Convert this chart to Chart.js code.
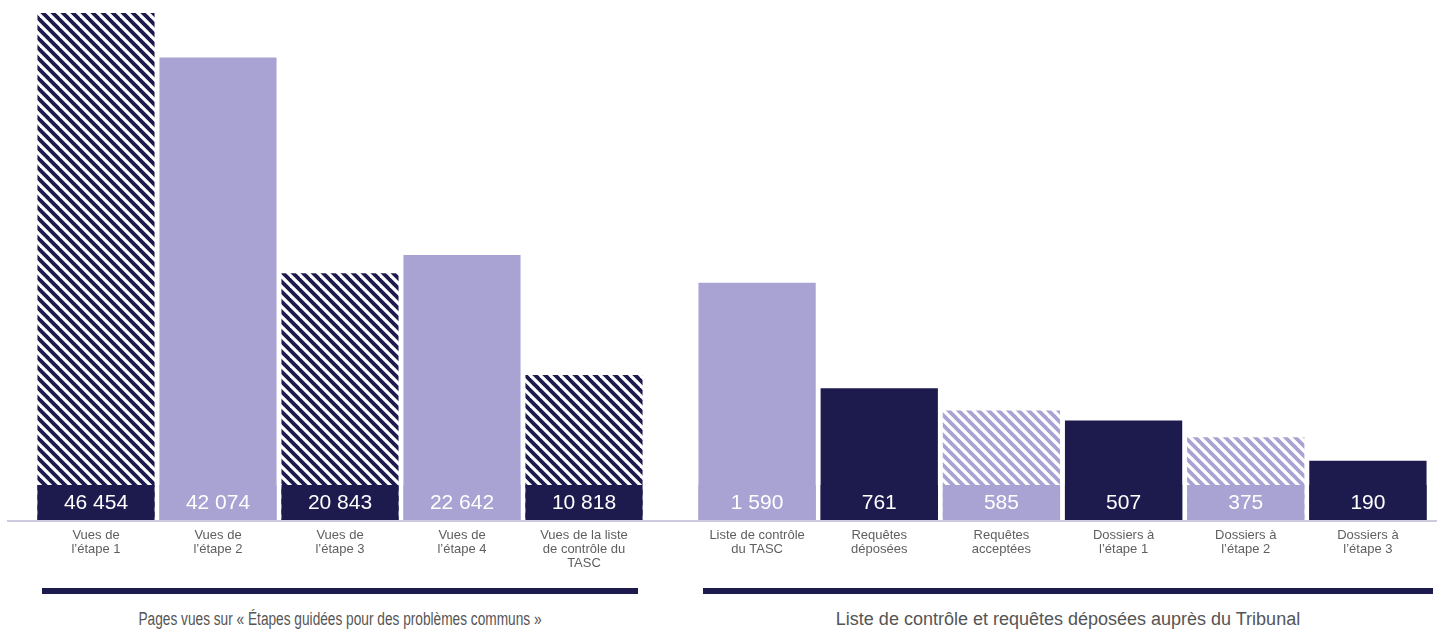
<!DOCTYPE html>
<html>
<head>
<meta charset="utf-8">
<script src="https://cdn.jsdelivr.net/npm/chart.js@4.4.1/dist/chart.umd.min.js"></script>
<style>
  body { margin: 0; background: #fff; font-family: "Liberation Sans", Arial, sans-serif; }
  #wrap { position: relative; width: 1437px; height: 637px; overflow: hidden; }
  .box { position: absolute; top: 0; height: 585px; }
  .groupLine { position: absolute; top: 588px; height: 6px; background: #1d1a4e; }
  .groupTitle { position: absolute; top: 609px; font-size: 18px; color: #555; text-align: center; white-space: nowrap; }
</style>
</head>
<body>
<div id="wrap">
  <div class="box" style="left:0; width:668px;"><canvas id="leftChart"></canvas></div>
  <div class="box" style="left:668px; width:769px;"><canvas id="rightChart"></canvas></div>
  <div class="groupLine" style="left:42px; width:596px;"></div>
  <div class="groupLine" style="left:703px; width:730px;"></div>
  <div class="groupTitle" style="left:42px; width:596px; transform: scaleX(0.76);">Pages vues sur « Étapes guidées pour des problèmes communs »</div>
  <div class="groupTitle" style="left:703px; width:730px;">Liste de contrôle et requêtes déposées auprès du Tribunal</div>
</div>
<script>
// Pages vues (groupe de gauche)
const pageLabels = [
    ["Vues de", "l’étape 1"],
    ["Vues de", "l’étape 2"],
    ["Vues de", "l’étape 3"],
    ["Vues de", "l’étape 4"],
    ["Vues de la liste", "de contrôle du", "TASC"]
];
const pageViews = [46454, 42074, 20843, 22642, 10818];

// Liste de contrôle et requêtes (groupe de droite)
const requestLabels = [
    ["Liste de contrôle", "du TASC"],
    ["Requêtes", "déposées"],
    ["Requêtes", "acceptées"],
    ["Dossiers à", "l’étape 1"],
    ["Dossiers à", "l’étape 2"],
    ["Dossiers à", "l’étape 3"]
];
const requestCounts = [1590, 761, 585, 507, 375, 190];

const NAVY = "#1d1a4e";
const LAVENDER = "#a8a3d2";

// diagonal stripes
function makeHatch(color) {
    const s = 10;
    const c = document.createElement("canvas");
    c.width = s;
    c.height = s;
    const g = c.getContext("2d");
    g.fillStyle = "#ffffff";
    g.fillRect(0, 0, s, s);
    g.strokeStyle = color;
    g.lineWidth = 3.8;
    for (let k = -1; k <= 1; k++) {
        g.beginPath();
        g.moveTo(-2, -2 + k * s);
        g.lineTo(s + 2, s + 2 + k * s);
        g.stroke();
    }
    return g.createPattern(c, "repeat");
}

const hatchNavy = makeHatch(NAVY);
const hatchLavender = makeHatch(LAVENDER);

function formatNumber(v) {
    return String(v).replace(/\B(?=(\d{3})+(?!\d))/g, " ");
}

// value box at the foot of every bar + light baseline
const valueBoxes = {
    id: "valueBoxes",
    afterDatasetsDraw(chart, args, opts) {
        const ctx = chart.ctx;
        const y = chart.scales.y;
        const top = y.getPixelForValue(0);
        const bottom = chart.chartArea.bottom;
        const meta = chart.getDatasetMeta(0);
        const values = chart.data.datasets[0].data;
        ctx.save();
        meta.data.forEach((bar, i) => {
            const w = bar.width;
            ctx.fillStyle = opts.boxColors[i];
            ctx.fillRect(bar.x - w / 2, top, w, bottom - top);
            ctx.fillStyle = "#ffffff";
            ctx.font = "21px 'Liberation Sans', Arial, sans-serif";
            ctx.textAlign = "center";
            ctx.textBaseline = "middle";
            ctx.fillText(formatNumber(values[i]), bar.x, (top + bottom) / 2 + 1);
        });
        ctx.strokeStyle = "#cdcadf";
        ctx.lineWidth = 2;
        ctx.beginPath();
        ctx.moveTo(opts.lineStart, bottom + 1);
        ctx.lineTo(chart.width, bottom + 1);
        ctx.stroke();
        ctx.restore();
    }
};

function buildChart(id, labels, values, fills, boxColors, yMin, yMax, padLeft, padRight, lineStart) {
    return new Chart(document.getElementById(id), {
        type: "bar",
        data: {
            labels: labels,
            datasets: [{
                data: values,
                backgroundColor: fills,
                base: yMin,
                borderWidth: 0,
                categoryPercentage: 1,
                barPercentage: 0.96
            }]
        },
        options: {
            responsive: true,
            maintainAspectRatio: false,
            animation: false,
            events: [],
            layout: { padding: { top: 5, bottom: 0, left: padLeft, right: padRight } },
            plugins: {
                legend: { display: false },
                tooltip: { enabled: false },
                valueBoxes: { boxColors: boxColors, lineStart: lineStart }
            },
            scales: {
                x: {
                    grid: { display: false, drawTicks: false },
                    border: { display: false },
                    ticks: {
                        color: "#5f5f5f",
                        padding: 8,
                        maxRotation: 0,
                        autoSkip: false,
                        font: { family: "'Liberation Sans', Arial, sans-serif", size: 13, lineHeight: 1.1 }
                    },
                    afterFit(scale) { scale.height = 65; }
                },
                y: {
                    display: false,
                    min: yMin,
                    max: yMax
                }
            }
        },
        plugins: [valueBoxes]
    });
}

buildChart("leftChart", pageLabels, pageViews,
    [hatchNavy, LAVENDER, hatchNavy, LAVENDER, hatchNavy],
    [NAVY, LAVENDER, NAVY, LAVENDER, NAVY],
    -3445, 47240, 35, 23, 7);

buildChart("rightChart", requestLabels, requestCounts,
    [LAVENDER, NAVY, hatchLavender, NAVY, hatchLavender, NAVY],
    [LAVENDER, NAVY, LAVENDER, NAVY, LAVENDER, NAVY],
    -275, 3774, 28, 8, 0);
</script>
</body>
</html>
